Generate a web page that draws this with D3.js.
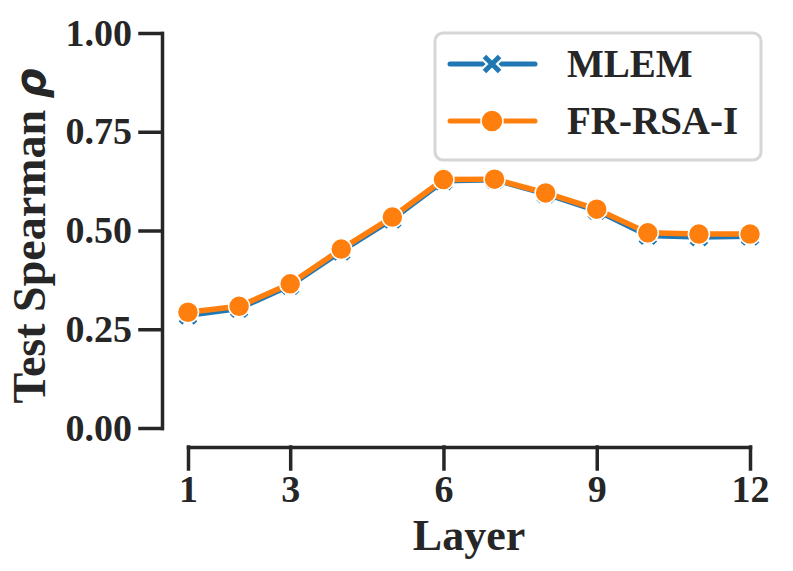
<!DOCTYPE html>
<html>
<head>
<meta charset="utf-8">
<script src="https://cdn.jsdelivr.net/npm/d3@7"></script>
<style>
  html, body { margin: 0; padding: 0; background: #fff; }
  text { font-family: "Liberation Serif", "Times New Roman", serif; font-weight: bold; fill: #262626; }
</style>
</head>
<body>
<svg id="chart" width="793" height="571"></svg>
<script>
// layers 1..12
const layers = [1, 2, 3, 4, 5, 6, 7, 8, 9, 10, 11, 12];
const mlem = [0.285, 0.302, 0.360, 0.447, 0.528, 0.625, 0.628, 0.592, 0.550, 0.487, 0.483, 0.485];
const frRsaI = [0.293, 0.308, 0.365, 0.453, 0.534, 0.629, 0.630, 0.595, 0.554, 0.494, 0.491, 0.491];
const xTicks = [1, 3, 6, 9, 12];
const yTicks = [0, 0.25, 0.5, 0.75, 1];
const seriesNames = ['MLEM', 'FR-RSA-I'];

const blue = '#1f77b4';
const orange = '#ff7f0e';
const ink = '#262626';

const svg = d3.select('#chart');

const x = d3.scaleLinear().domain([1, 12]).range([188, 750]);
const y = d3.scaleLinear().domain([0, 1]).range([428, 33]);

// y axis (offset, trimmed)
const yAxis = svg.append('g')
  .attr('transform', 'translate(162,0)')
  .call(d3.axisLeft(y).tickValues(yTicks).tickFormat(d3.format('.2f')).tickSize(22).tickPadding(8).tickSizeOuter(0));
yAxis.select('.domain').attr('stroke', ink).attr('stroke-width', 3.5);
yAxis.selectAll('.tick line').attr('stroke', ink).attr('stroke-width', 3.5);
yAxis.selectAll('.tick text').attr('font-size', 38).attr('fill', ink)
  .style('font-family', '"Liberation Serif", serif').style('font-weight', 'bold');

// x axis
const xAxis = svg.append('g')
  .attr('transform', 'translate(0,447)')
  .call(d3.axisBottom(x).tickValues(xTicks).tickSize(22).tickPadding(6).tickSizeOuter(0));
xAxis.select('.domain').attr('stroke', ink).attr('stroke-width', 3.5);
xAxis.selectAll('.tick line').attr('stroke', ink).attr('stroke-width', 3.5);
xAxis.selectAll('.tick text').attr('font-size', 38).attr('fill', ink)
  .style('font-family', '"Liberation Serif", serif').style('font-weight', 'bold');

svg.selectAll('.domain, .tick line').attr('stroke-linecap', 'square');

// axis labels
svg.append('text')
  .attr('x', 469).attr('y', 550)
  .attr('text-anchor', 'middle')
  .attr('font-size', 44)
  .text('Layer');

const yl = svg.append('text')
  .attr('transform', 'translate(45,236) rotate(-90)')
  .attr('text-anchor', 'middle')
  .attr('font-size', 46);
yl.append('tspan').text('Test Spearman ');
yl.append('tspan')
  .style('font-family', '"DejaVu Sans", sans-serif')
  .style('font-style', 'italic')
  .attr('font-size', 42)
  .text('ρ');

const line = d3.line().x((d, i) => x(layers[i])).y(d => y(d));

// MLEM
svg.append('path')
  .attr('d', line(mlem))
  .attr('fill', 'none')
  .attr('stroke', blue)
  .attr('stroke-width', 5)
  .attr('stroke-linejoin', 'round');

const cross = d3.symbol().type(d3.symbolX).size(150);
svg.selectAll('.mlem-pt')
  .data(mlem)
  .join('path')
  .attr('class', 'mlem-pt')
  .attr('transform', (d, i) => `translate(${x(layers[i])},${y(d)})`)
  .attr('d', cross())
  .attr('stroke', blue)
  .attr('stroke-width', 5)
  .attr('fill', 'none');

// FR-RSA-I
svg.append('path')
  .attr('d', line(frRsaI))
  .attr('fill', 'none')
  .attr('stroke', orange)
  .attr('stroke-width', 5.5)
  .attr('stroke-linejoin', 'round');

svg.selectAll('.fr-pt')
  .data(frRsaI)
  .join('circle')
  .attr('class', 'fr-pt')
  .attr('cx', (d, i) => x(layers[i]))
  .attr('cy', d => y(d))
  .attr('r', 10.5)
  .attr('fill', orange)
  .attr('stroke', '#fff')
  .attr('stroke-width', 1.5);

// legend
const legend = svg.append('g');
legend.append('rect')
  .attr('x', 435).attr('y', 33)
  .attr('width', 326).attr('height', 127)
  .attr('rx', 8)
  .attr('fill', '#fff')
  .attr('fill-opacity', 0.85)
  .attr('stroke', '#d6d6d6')
  .attr('stroke-width', 3);

seriesNames.forEach((name, i) => {
  const ly = 64 + i * 57;
  const color = i === 0 ? blue : orange;
  legend.append('line')
    .attr('x1', 450).attr('x2', 535)
    .attr('y1', ly).attr('y2', ly)
    .attr('stroke', color)
    .attr('stroke-width', 5)
    .attr('stroke-linecap', 'round');
  if (i === 0) {
    legend.append('path')
      .attr('transform', `translate(492,${ly})`)
      .attr('d', cross())
      .attr('stroke', '#fff')
      .attr('stroke-width', 9)
      .attr('fill', 'none');
    legend.append('path')
      .attr('transform', `translate(492,${ly})`)
      .attr('d', cross())
      .attr('stroke', blue)
      .attr('stroke-width', 5)
      .attr('fill', 'none');
  } else {
    legend.append('circle')
      .attr('cx', 492).attr('cy', ly)
      .attr('r', 11)
      .attr('fill', orange)
      .attr('stroke', '#fff')
      .attr('stroke-width', 1.5);
  }
  legend.append('text')
    .attr('x', 567).attr('y', ly + 13)
    .attr('font-size', 39)
    .text(name);
});
</script>
</body>
</html>
